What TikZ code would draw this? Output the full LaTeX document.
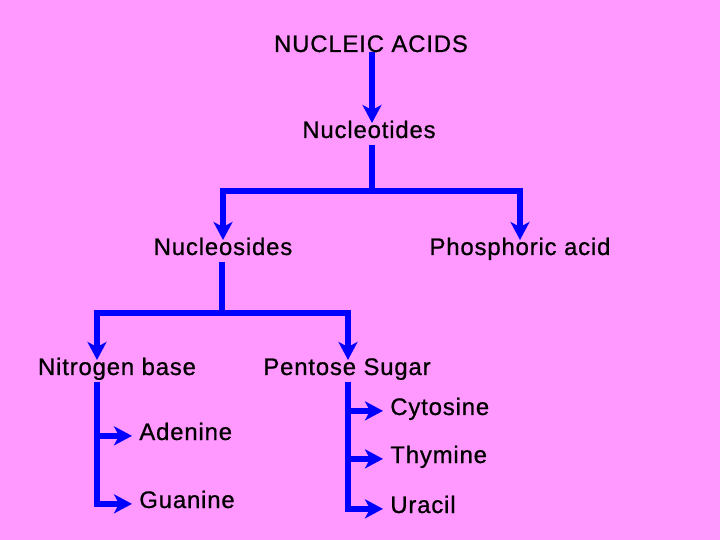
\documentclass[tikz,border=0pt]{standalone}
\usepackage{fontspec}
\setmainfont[LetterSpace=3.5, FakeBold=0.8]{Liberation Sans}
\usetikzlibrary{arrows.meta, positioning, calc}
\definecolor{slidepink}{RGB}{255,153,255}
\definecolor{linkblue}{RGB}{0,0,255}

\begin{document}
\begin{tikzpicture}[x=0.02cm, y=-0.02cm,
  every node/.style={font=\fontsize{13.6pt}{16pt}\selectfont, text height=0.72em,
    text depth=0.25em, inner sep=0.04cm, anchor=base},
  leaf/.style={anchor=base west, inner xsep=0.14cm},
  >={Stealth[length=0.36cm, width=0.38cm, inset=0.1cm]},
  arrow/.style={->, line width=0.13cm, draw=linkblue}
]
\fill[slidepink] (0,0) rectangle (720,540);
\useasboundingbox (0,0) rectangle (720,540);

% levels of the tree
\node (acids) at (371,52) {NUCLEIC ACIDS};
\node (nucleotides) at (369,138) {Nucleotides};
\node (nucleosides) at (223,255) {Nucleosides};
\node (phosphoric) at (520,255) {Phosphoric acid};
\node (nitrogen) at (117,375) {Nitrogen base};
\node (pentose) at (347,375) {Pentose Sugar};

% bases
\node[leaf] (adenine) at (132,440) {Adenine};
\node[leaf] (guanine) at (132,508) {Guanine};
\node[leaf] (cytosine) at (383,415) {Cytosine};
\node[leaf] (thymine) at (383,463) {Thymine};
\node[leaf] (uracil) at (383,513) {Uracil};

% helper coordinates for the bars
\coordinate (bartop) at (372,191);
\coordinate (barmid) at (222,313);
\coordinate (nitrox) at (97,0);
\coordinate (pentx) at (348,0);

\draw[arrow, shorten <=-0.14cm] (acids.south -| bartop) -- (nucleotides.north -| bartop);
\draw[arrow] (nucleotides.south -| bartop) -- (bartop) -| (nucleosides);
\draw[arrow] (bartop) -| (phosphoric);
\draw[arrow] (nucleosides.south -| barmid) -- (barmid) -| (nitrogen.north -| nitrox);
\draw[arrow] (barmid) -| (pentose.north -| pentx);

\draw[arrow] (nitrogen.south -| nitrox) |- (adenine);
\draw[arrow] (nitrogen.south -| nitrox) |- (guanine);
\draw[arrow] (pentose.south -| pentx) |- (cytosine);
\draw[arrow] (pentose.south -| pentx) |- (thymine);
\draw[arrow] (pentose.south -| pentx) |- (uracil);
\end{tikzpicture}
\end{document}
